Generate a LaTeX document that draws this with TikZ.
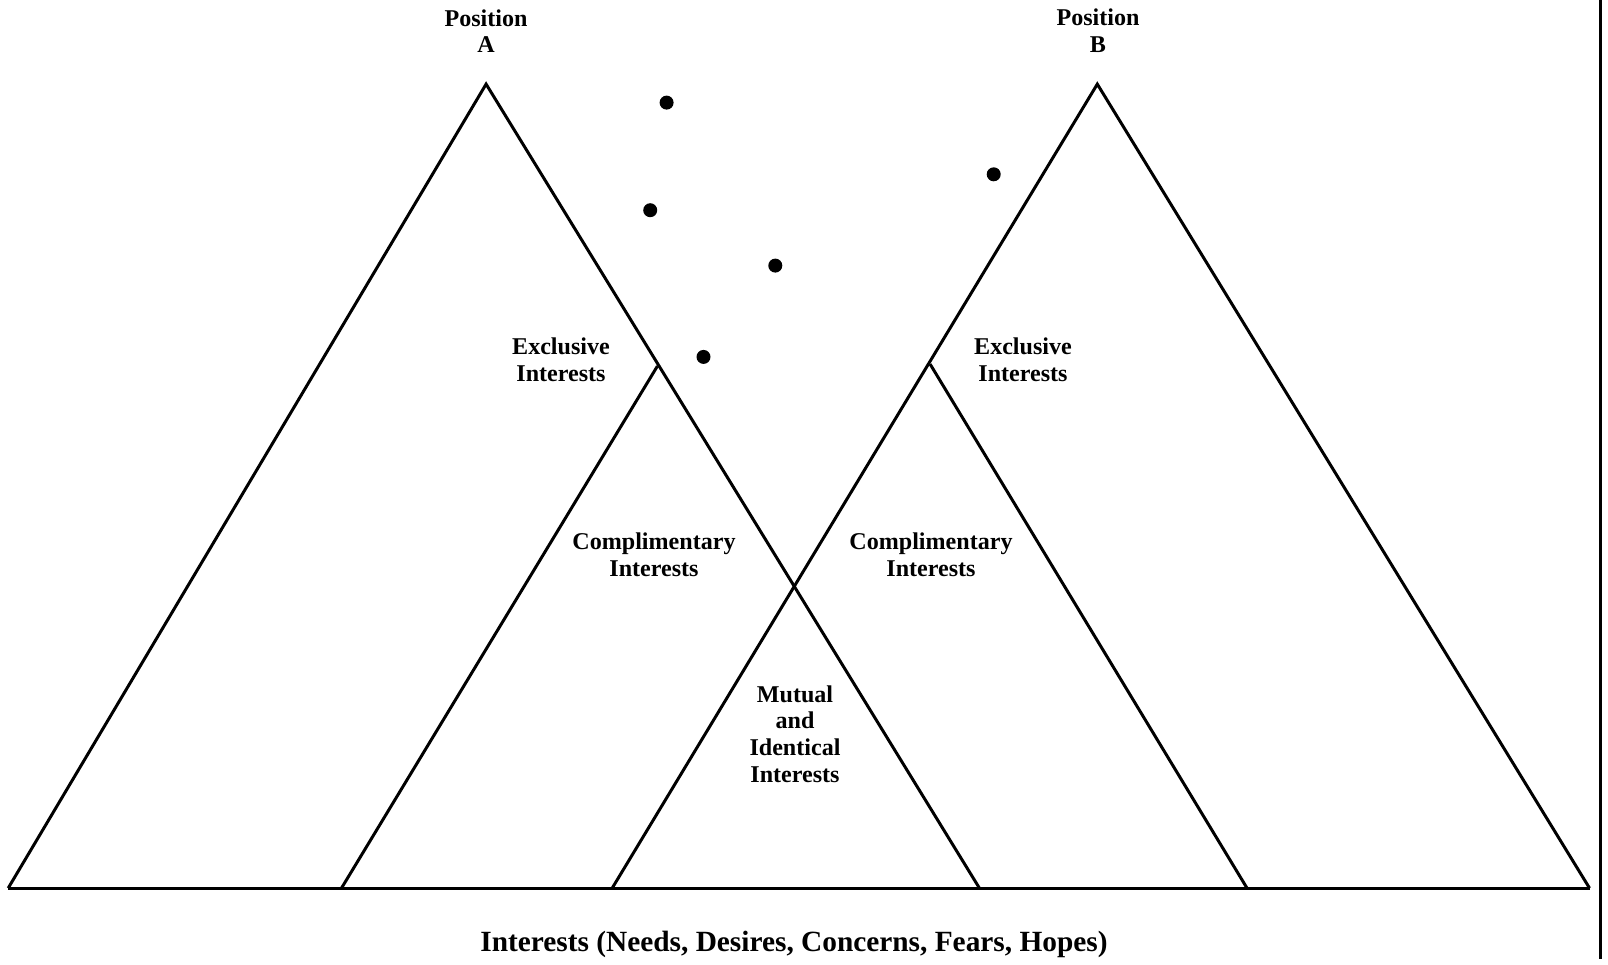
\documentclass[tikz,border=0pt]{standalone}
\usepackage{fontspec}
\setmainfont{Liberation Serif}
\begin{document}
\begin{tikzpicture}[x=0.02cm, y=-0.02cm, line width=1.7pt, line join=miter,
  lbl/.style={font=\bfseries\fontsize{13.7}{15.2}\selectfont, align=center, inner sep=0pt},
  dot/.style={fill=black, draw=none}]
\useasboundingbox (0,0) rectangle (1608,964);
% corner points of the two positions
\coordinate (Atop) at (486.1,84.1);
\coordinate (Aleft) at (8.2,888.1);
\coordinate (Aright) at (979.4,888.1);
\coordinate (Btop) at (1097.3,84.1);
\coordinate (Bleft) at (612.2,888.1);
\coordinate (Bright) at (1589.5,888.1);
\coordinate (Ctop) at (657.4,366.1);
\coordinate (Cleft) at (341.5,888.1);
\coordinate (Dtop) at (930.1,364.1);
\coordinate (Dright) at (1247.0,888.1);
% triangles
\draw (Aleft) -- (Atop) -- (Aright);
\draw (Bleft) -- (Btop) -- (Bright);
\draw (Aleft) -- (Bright);
\draw (Cleft) -- (Ctop);
\draw (Dtop) -- (Dright);
% right edge
\coordinate (Etop) at (1600,0);
\coordinate (Ebot) at (1600,959);
\draw (Etop) -- (Ebot);
% dots
\foreach \px/\py in {666.6/102.6, 650.2/210.2, 775.3/265.6, 703.5/356.9, 993.7/174.3}
  \fill[dot] (\px,\py) circle (7);
% labels
\node[lbl] (posA) at (486,31) {Position\\A};
\node[lbl] (posB) at (1098,31) {Position\\B};
\node[lbl] (exA) at (561,360) {Exclusive\\Interests};
\node[lbl] (exB) at (1023,360) {Exclusive\\Interests};
\node[lbl] (comA) at (654,555) {Complimentary\\Interests};
\node[lbl] (comB) at (931,555) {Complimentary\\Interests};
\node[lbl] (mut) at (795,734) {Mutual\\and\\Identical\\Interests};
\node[lbl, font=\bfseries\fontsize{16.7}{20}\selectfont] (axis) at (794,944) {Interests (Needs, Desires, Concerns, Fears, Hopes)};
\end{tikzpicture}
\end{document}
